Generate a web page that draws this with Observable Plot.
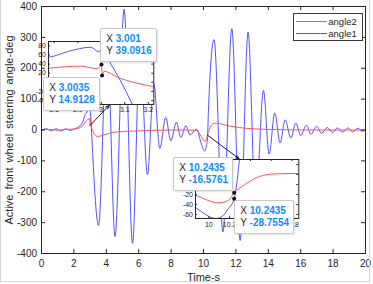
<!DOCTYPE html>
<html>
<head>
<meta charset="utf-8">
<script src="https://cdn.jsdelivr.net/npm/d3@7"></script>
<script src="https://cdn.jsdelivr.net/npm/@observablehq/plot@0.6"></script>
<style>
  body { margin: 0; background: #fff; }
  #wrap { position: relative; width: 373px; height: 284px; overflow: hidden; background: #fff;
          font-family: 'Liberation Sans', Arial, Helvetica, sans-serif; color: #262626; }
  .abs { position: absolute; }
  .tip { position: absolute; box-sizing: border-box; background: #fff; border: 1px solid #c8c8c8;
         border-radius: 2px; box-shadow: 1px 1px 2px rgba(0,0,0,0.12); font-size: 10px;
         line-height: 12px; padding: 4px 4px 4px 5px; white-space: nowrap; }
  .tip b { color: #0f8cff; font-weight: bold; }
  .legend { position: absolute; box-sizing: border-box; background: #fff; border: 1px solid #3a3a3a; }
  .lrow { position: absolute; font-size: 9.5px; line-height: 11px; white-space: nowrap; }
  .lline { position: absolute; height: 0; border-top: 1px solid; }
</style>
</head>
<body>
<div id="wrap"></div>
<script>
// ---------- data ----------
const xTicks = [0, 2, 4, 6, 8, 10, 12, 14, 16, 18, 20];
const yTicks = [-400, -300, -200, -100, 0, 100, 200, 300, 400];

// angle1 (blue)
const t1 = [0, 0.3, 0.6, 0.9, 1.2, 1.5, 1.8, 2.05, 2.3, 2.55, 2.72, 2.777, 2.86, 2.955, 2.99, 3.003, 3.032, 3.075, 3.11, 3.132,
            3.52, 4.05, 4.54, 5.10, 5.62, 6.08, 6.54, 6.93, 7.30, 7.67, 7.98, 8.33, 8.60, 8.91, 9.17, 9.57,
            9.872, 10.07, 10.144, 10.177, 10.2435, 10.273, 10.295, 10.65, 11.2, 11.75, 12.26, 12.75, 13.22,
            13.70, 14.05, 14.40, 14.73, 15.04, 15.39, 15.70, 16.0, 16.36, 16.62, 16.99, 17.28, 17.65, 17.96,
            18.27, 18.58, 18.93, 19.2, 19.54, 19.81, 20];
const a1 = [0, 4, -3, 4, -3, 4, -2, 4, 10, 27, 53, 55, 68, 77, 67, 75, 48, 10, -25, -48,
            -309, 300, -345, 391, -367, 270, -145, 150, -60, 41, -35, 25, -24, 14, -16, 3,
            -46, -68, -61, -51, -28.7554, 8.6, 50, 293, -330, 328, -358, 317, -250,
            128, -78, 55, -42, 33, -26, 23, -18, 16, -14, 12, -10, 8, -8,
            7, -7, 7, -6, 6, -5, 2];

// angle2 (red)
const t2 = [0, 0.5, 1.0, 1.5, 2.0, 2.3, 2.55, 2.777, 2.912, 2.985, 3.001, 3.0035, 3.012, 3.075, 3.217, 3.46,
            3.9, 4.4, 5.0, 5.9, 7.0, 8.0, 9.0, 9.5, 9.7, 9.872, 10.096, 10.19, 10.2435, 10.337, 10.465,
            10.59, 10.8, 11.5, 12.2, 13.0, 14.0, 15.5, 17.0, 20];
const a2 = [0, 2, -1, 2, 3, 6, 14, 31, 35.4, 30, 39.0916, 14.9128, 24, 10, -9, -21,
            -15, -8, -5, -3, -1, 0, 0, -1, -8, -21.4, -36.8, -31.4, -16.5761, -1.4, 14,
            20.6, 22, 14, 8, 4, 2, 0.5, 0, 0];

const seriesNames = ["angle2", "angle1"];
const xTitle = "Time-s";
const yTitle = "Active front wheel steering angle-deg";

// inset 1 (tick marks, and the labels that are visible)
const in1X = [2.8, 2.9, 3, 3.1, 3.2];
const in1Y = [-40, -20, 0, 20, 40, 60, 80];
const in1XLab = [2.8, 2.9, 3, 3.1, 3.2];
const in1YLab = [-40, -20, 20, 40, 60, 80];
// inset 2
const in2X = [10, 10.2, 10.4, 10.6, 10.8];
const in2Y = [-60, -40, -20, 0, 20, 40];
const in2XLab = [10, 10.2, 10.8];
const in2YLab = [-60, -40, -20];

// data tips
const tipXs = [3.001, 3.0035, 10.2435, 10.2435];
const tipYs = [39.0916, 14.9128, -16.5761, -28.7554];
const tipXLabels = ["3.001", "3.0035", "10.2435", "10.2435"];
const tipYLabels = ["39.0916", "14.9128", "-16.5761", "-28.7554"];

// annotation arrows (from data point to inset)
const arrowX1 = [3.0035, 10.2435];
const arrowY1 = [14.9128, -16.5761];
const arrowX2 = [4.17, 12.2];
const arrowY2 = [79.4, -93.3];

// ---------- build ----------
const angle1 = t1.map((t, i) => ({t, v: a1[i]}));
const angle2 = t2.map((t, i) => ({t, v: a2[i]}));
const arrows = arrowX1.map((x1, i) => ({x1, y1: arrowY1[i], x2: arrowX2[i], y2: arrowY2[i]}));
const tips = tipXs.map((x, i) => ({x, y: tipYs[i]}));

const RED = "#ff5252", BLUE = "#5252ff", INK = "#262626";
const FONT = "'Liberation Sans', Arial, Helvetica, sans-serif";
const fmt = d => String(d);
const wrap = document.getElementById("wrap");

const W = 373, H = 284, mL = 41, mR = 8, mT = 6, mB = 31;
const pw = W - mL - mR, ph = H - mT - mB;

const main = Plot.plot({
  width: W, height: H, marginLeft: mL, marginRight: mR, marginTop: mT, marginBottom: mB,
  x: {domain: [0, 20]}, y: {domain: [-400, 400]},
  style: {fontFamily: FONT, fontSize: "10px", color: INK, background: "transparent", overflow: "visible"},
  marks: [
    Plot.line(angle1, {x: "t", y: "v", stroke: BLUE, strokeWidth: 1, curve: "monotone-x", clip: true}),
    Plot.line(angle2, {x: "t", y: "v", stroke: RED, strokeWidth: 1, curve: "monotone-x", clip: true}),
    Plot.frame({stroke: INK, strokeWidth: 1}),
    Plot.tickX(xTicks, {x: d => d, stroke: INK, insetTop: ph - 4}),
    Plot.tickX(xTicks, {x: d => d, stroke: INK, insetBottom: ph - 4}),
    Plot.tickY(yTicks, {y: d => d, stroke: INK, insetRight: pw - 4}),
    Plot.tickY(yTicks, {y: d => d, stroke: INK, insetLeft: pw - 4}),
    Plot.axisX(xTicks, {tickSize: 0, tickPadding: 6, label: null, tickFormat: fmt, fill: INK}),
    Plot.axisY(yTicks, {tickSize: 0, tickPadding: 4.5, label: null, tickFormat: fmt, fill: INK}),
    Plot.text([xTitle], {text: d => d, frameAnchor: "bottom", textAnchor: "middle", lineAnchor: "middle",
                         dy: 23.5, fontSize: 11, fill: INK}),
    Plot.text([yTitle], {text: d => d, frameAnchor: "left", textAnchor: "middle", lineAnchor: "middle",
                         dx: -32, rotate: -90, fontSize: 11, fill: INK}),
    Plot.arrow(arrows, {x1: "x1", y1: "y1", x2: "x2", y2: "y2", stroke: "#000", strokeWidth: 0.9, headLength: 6, headAngle: 45})
  ]
});
main.style.position = "absolute"; main.style.left = "0px"; main.style.top = "0px";
d3.select(main).selectAll("text").filter(function() { return this.textContent === yTitle; })
  .style("word-spacing", "2px");
wrap.appendChild(main);

function inset(o) {
  const fw = o.px1 - o.px0, fh = o.py1 - o.py0;
  const ml = 16, mr = 2, mt = 2, mb = 14;
  const svg = Plot.plot({
    width: fw + ml + mr, height: fh + mt + mb,
    marginLeft: ml, marginRight: mr, marginTop: mt, marginBottom: mb,
    x: {domain: o.xd}, y: {domain: o.yd},
    style: {fontFamily: FONT, fontSize: "7px", color: INK, background: "transparent", overflow: "visible"},
    marks: [
      Plot.frame({fill: "white", stroke: "none"}),
      Plot.line(angle1, {x: "t", y: "v", stroke: BLUE, strokeWidth: 1, curve: "monotone-x", clip: true}),
      Plot.line(angle2, {x: "t", y: "v", stroke: RED, strokeWidth: 1, curve: "monotone-x", clip: true}),
      Plot.frame({stroke: INK, strokeWidth: 1}),
      Plot.tickX(o.xt, {x: d => d, stroke: INK, insetTop: fh - 2}),
      Plot.tickX(o.xt, {x: d => d, stroke: INK, insetBottom: fh - 2}),
      Plot.tickY(o.yt, {y: d => d, stroke: INK, insetRight: fw - 2}),
      Plot.tickY(o.yt, {y: d => d, stroke: INK, insetLeft: fw - 2}),
      Plot.axisX(o.xl, {tickSize: 0, tickPadding: o.xpad, label: null, tickFormat: fmt, fill: INK}),
      Plot.axisY(o.yl, {tickSize: 0, tickPadding: 2.5, label: null, tickFormat: fmt, fill: INK}),
      Plot.dot(o.tips, {x: "x", y: "y", r: 2, fill: "#111", stroke: "none"})
    ]
  });
  svg.style.position = "absolute";
  svg.style.left = (o.px0 - ml) + "px";
  svg.style.top = (o.py0 - mt) + "px";
  wrap.appendChild(svg);
}

inset({px0: 48, px1: 153.3, py0: 41, py1: 104, xd: [2.7755, 3.2236], yd: [-48.8, 89.7],
       xt: in1X, yt: in1Y, xl: in1XLab, yl: in1YLab, tips: tips.slice(0, 2), xpad: 2.5});
inset({px0: 195, px1: 298.3, py0: 159.3, py1: 218.3, xd: [9.872, 10.865], yd: [-68, 50],
       xt: in2X, yt: in2Y, xl: in2XLab, yl: in2YLab, tips: tips.slice(2, 4), xpad: 4});

// data tip boxes
const tipBoxes = [
  {left: 100.3, top: 28.3, w: 56.7, h: 34},
  {left: 43.3, top: 77.3, w: 56.5, h: 33.5},
  {left: 173.3, top: 157.3, w: 60, h: 33.5},
  {left: 234.3, top: 199.5, w: 60, h: 34}
];
tipBoxes.forEach((b, i) => {
  const d = document.createElement("div");
  d.className = "tip";
  Object.assign(d.style, {left: b.left + "px", top: b.top + "px", width: b.w + "px", height: b.h + "px"});
  d.innerHTML = `<div>X <b>${tipXLabels[i]}</b></div><div>Y <b>${tipYLabels[i]}</b></div>`;
  wrap.appendChild(d);
});

// legend
const lg = document.createElement("div");
lg.className = "legend";
Object.assign(lg.style, {left: "292.7px", top: "13.3px", width: "70.8px", height: "27.6px"});
wrap.appendChild(lg);
const legColors = [RED, BLUE];
const legY = [21.7, 33.3];
seriesNames.forEach((name, i) => {
  const ln = document.createElement("div");
  ln.className = "lline";
  Object.assign(ln.style, {left: "296px", top: (legY[i] - 0.5) + "px", width: "30.5px", borderColor: legColors[i]});
  wrap.appendChild(ln);
  const tx = document.createElement("div");
  tx.className = "lrow";
  Object.assign(tx.style, {left: "328.3px", top: (legY[i] - 5.5) + "px"});
  tx.textContent = name;
  wrap.appendChild(tx);
});

// faint figure border
const bd = document.createElement("div");
bd.className = "abs";
Object.assign(bd.style, {left: "0px", top: "-1px", width: "370px", height: "283px", boxSizing: "border-box",
  border: "1px solid #d6d6d6", pointerEvents: "none"});
wrap.appendChild(bd);
</script>
</body>
</html>
